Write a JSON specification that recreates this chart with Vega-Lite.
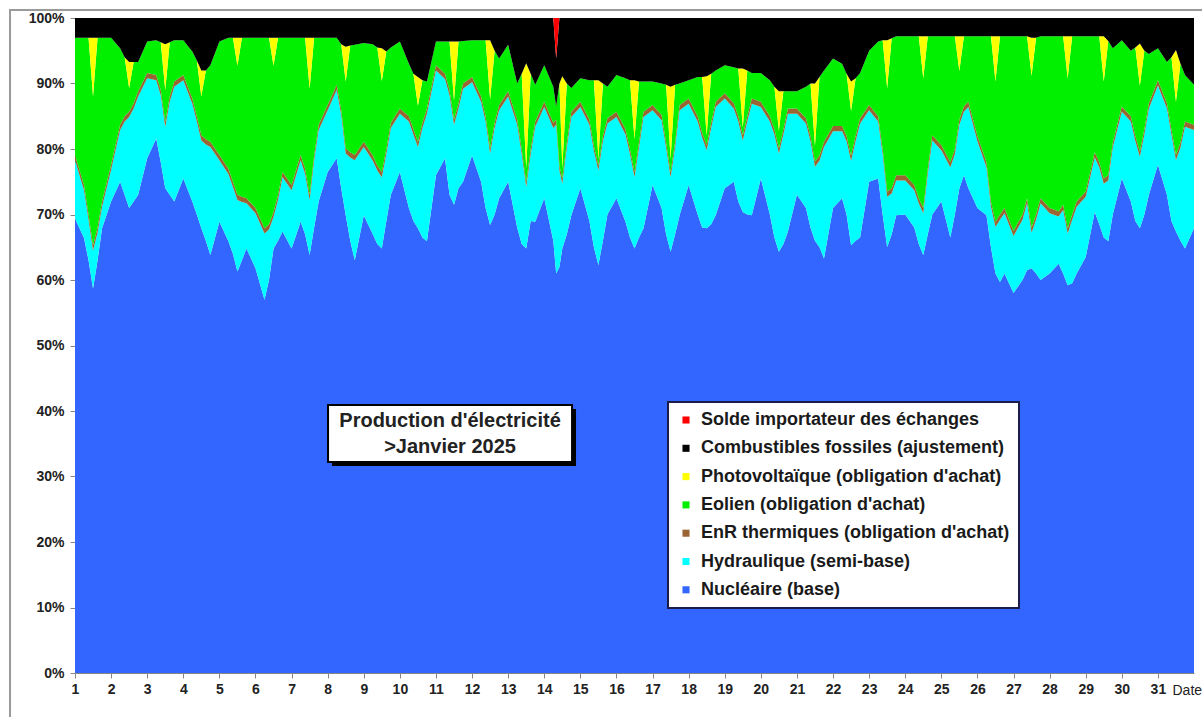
{
  "$schema": "https://vega.github.io/schema/vega-lite/v6.json",
  "width": 1119,
  "height": 655,
  "autosize": {"type": "none"},
  "padding": {"left": 75, "top": 18, "right": 8, "bottom": 44},
  "background": "#ffffff",
  "config": {
    "view": {"stroke": null},
    "font": "Liberation Sans",
    "axis": {"labelOverlap": false, "grid": false, "labelFlush": false},
    "axisX": {
      "labelFontSize": 14, "labelFontWeight": "bold", "labelColor": "#222222",
      "labelPadding": 4, "tickSize": 5, "tickColor": "#888888", "domainColor": "#888888",
      "titleX": 1097, "titleY": 17, "titleAlign": "left", "titleBaseline": "middle",
      "titleFontWeight": "normal", "titleFontSize": 14, "titleColor": "#222222"
    },
    "axisY": {
      "labelFontSize": 14, "labelFontWeight": "bold", "labelColor": "#222222",
      "labelPadding": 6, "tickSize": 5, "tickColor": "#888888", "domainColor": "#888888"
    }
  },
  "datasets": {
    "labels": [
      {"src": "N", "label": "Nucléaire (base)", "ord": 1},
      {"src": "H", "label": "Hydraulique (semi-base)", "ord": 2},
      {"src": "E", "label": "EnR thermiques (obligation d'achat)", "ord": 3},
      {"src": "W", "label": "Eolien (obligation d'achat)", "ord": 4},
      {"src": "S", "label": "Photovoltaïque (obligation d'achat)", "ord": 5},
      {"src": "F", "label": "Combustibles fossiles (ajustement)", "ord": 6},
      {"src": "I", "label": "Solde importateur des échanges", "ord": 7}
    ],
    "mix": [
      {"t":1,"N":69.4,"H":8.9,"E":0.8,"W":17.9,"S":0,"F":3,"I":0},
      {"t":1.25,"N":66.4,"H":7.3,"E":0.8,"W":22.5,"S":0,"F":3,"I":0},
      {"t":1.375,"N":63,"H":6.2,"E":0.8,"W":27,"S":0,"F":3,"I":0},
      {"t":1.5,"N":58.7,"H":5.8,"E":0.8,"W":22.7,"S":9,"F":3,"I":0},
      {"t":1.625,"N":63,"H":4.2,"E":0.8,"W":29,"S":0,"F":3,"I":0},
      {"t":1.75,"N":67.9,"H":3.3,"E":0.8,"W":25,"S":0,"F":3,"I":0},
      {"t":2,"N":72,"H":4.8,"E":0.8,"W":19.4,"S":0,"F":3,"I":0},
      {"t":2.25,"N":75,"H":7.9,"E":0.8,"W":11.7,"S":0,"F":4.6,"I":0},
      {"t":2.375,"N":73,"H":11.2,"E":0.8,"W":9,"S":0,"F":6,"I":0},
      {"t":2.5,"N":71,"H":13.9,"E":0.8,"W":3.6,"S":4,"F":6.7,"I":0},
      {"t":2.625,"N":72,"H":14.2,"E":0.8,"W":6.3,"S":0,"F":6.7,"I":0},
      {"t":2.75,"N":73,"H":15,"E":0.8,"W":4.5,"S":0,"F":6.7,"I":0},
      {"t":3,"N":78.6,"H":12.2,"E":0.8,"W":4.8,"S":0,"F":3.6,"I":0},
      {"t":3.25,"N":81.6,"H":8.9,"E":0.8,"W":5.3,"S":0,"F":3.4,"I":0},
      {"t":3.375,"N":78,"H":10.2,"E":0.8,"W":7.3,"S":0,"F":3.7,"I":0},
      {"t":3.5,"N":74,"H":9.4,"E":0.8,"W":4.8,"S":7,"F":4,"I":0},
      {"t":3.625,"N":73,"H":14.2,"E":0.8,"W":8.3,"S":0,"F":3.7,"I":0},
      {"t":3.75,"N":72,"H":17.5,"E":0.8,"W":6.3,"S":0,"F":3.4,"I":0},
      {"t":4,"N":75.5,"H":15,"E":0.8,"W":5.3,"S":0,"F":3.4,"I":0},
      {"t":4.25,"N":72,"H":14.9,"E":0.8,"W":7.2,"S":0,"F":5.1,"I":0},
      {"t":4.375,"N":70,"H":14.2,"E":0.8,"W":8.5,"S":0,"F":6.5,"I":0},
      {"t":4.5,"N":67.9,"H":13.4,"E":0.8,"W":5.9,"S":4,"F":8,"I":0},
      {"t":4.625,"N":66,"H":14.7,"E":0.8,"W":10.5,"S":0,"F":8,"I":0},
      {"t":4.75,"N":63.8,"H":16.5,"E":0.8,"W":11.7,"S":0,"F":7.2,"I":0},
      {"t":5,"N":68.9,"H":9.4,"E":0.8,"W":17.3,"S":0,"F":3.6,"I":0},
      {"t":5.25,"N":65.9,"H":10.3,"E":0.8,"W":20,"S":0,"F":3,"I":0},
      {"t":5.375,"N":64,"H":10.2,"E":0.8,"W":22,"S":0,"F":3,"I":0},
      {"t":5.5,"N":61.3,"H":10.9,"E":0.8,"W":19.7,"S":4.3,"F":3,"I":0},
      {"t":5.625,"N":63,"H":8.9,"E":0.8,"W":24.3,"S":0,"F":3,"I":0},
      {"t":5.75,"N":64.8,"H":6.9,"E":0.8,"W":24.5,"S":0,"F":3,"I":0},
      {"t":6,"N":61.8,"H":8.4,"E":0.8,"W":26,"S":0,"F":3,"I":0},
      {"t":6.25,"N":57,"H":10.1,"E":0.8,"W":29.1,"S":0,"F":3,"I":0},
      {"t":6.375,"N":60,"H":7.7,"E":0.8,"W":28.5,"S":0,"F":3,"I":0},
      {"t":6.5,"N":64.8,"H":4.8,"E":0.8,"W":22.3,"S":4.3,"F":3,"I":0},
      {"t":6.625,"N":66,"H":6.2,"E":0.8,"W":24,"S":0,"F":3,"I":0},
      {"t":6.75,"N":67.4,"H":8.3,"E":0.8,"W":20.5,"S":0,"F":3,"I":0},
      {"t":7,"N":64.8,"H":8.9,"E":0.8,"W":22.5,"S":0,"F":3,"I":0},
      {"t":7.25,"N":68.9,"H":9.4,"E":0.8,"W":17.9,"S":0,"F":3,"I":0},
      {"t":7.375,"N":67,"H":9.2,"E":0.8,"W":20,"S":0,"F":3,"I":0},
      {"t":7.5,"N":63.8,"H":8.4,"E":0.8,"W":16.2,"S":7.8,"F":3,"I":0},
      {"t":7.625,"N":68,"H":10.2,"E":0.8,"W":18,"S":0,"F":3,"I":0},
      {"t":7.75,"N":72,"H":10.9,"E":0.8,"W":13.3,"S":0,"F":3,"I":0},
      {"t":8,"N":76.5,"H":9.4,"E":0.8,"W":10.3,"S":0,"F":3,"I":0},
      {"t":8.25,"N":78.6,"H":10.4,"E":0.8,"W":7.2,"S":0,"F":3,"I":0},
      {"t":8.375,"N":74,"H":11.2,"E":0.8,"W":10,"S":0,"F":4,"I":0},
      {"t":8.5,"N":69.9,"H":9.4,"E":0.8,"W":10.2,"S":5.3,"F":4.4,"I":0},
      {"t":8.625,"N":66,"H":12.7,"E":0.8,"W":16.3,"S":0,"F":4.2,"I":0},
      {"t":8.75,"N":63,"H":15.3,"E":0.8,"W":16.8,"S":0,"F":4.1,"I":0},
      {"t":9,"N":69.9,"H":10.4,"E":0.8,"W":15.1,"S":0,"F":3.8,"I":0},
      {"t":9.25,"N":67,"H":11.2,"E":0.8,"W":17,"S":0,"F":4,"I":0},
      {"t":9.375,"N":65.5,"H":11.2,"E":0.8,"W":18,"S":0,"F":4.5,"I":0},
      {"t":9.5,"N":64.8,"H":10.9,"E":0.8,"W":13.9,"S":5,"F":4.6,"I":0},
      {"t":9.625,"N":69,"H":10.2,"E":0.8,"W":14.9,"S":0,"F":5.1,"I":0},
      {"t":9.75,"N":73,"H":10.2,"E":0.8,"W":11.5,"S":0,"F":4.5,"I":0},
      {"t":10,"N":76.5,"H":8.9,"E":0.8,"W":10.2,"S":0,"F":3.6,"I":0},
      {"t":10.25,"N":71,"H":13.2,"E":0.8,"W":8,"S":0,"F":7,"I":0},
      {"t":10.375,"N":69,"H":13.2,"E":0.8,"W":8.5,"S":0,"F":8.5,"I":0},
      {"t":10.5,"N":67.9,"H":12.4,"E":0.8,"W":5.5,"S":4.4,"F":9,"I":0},
      {"t":10.625,"N":66.5,"H":16.7,"E":0.8,"W":6.5,"S":0,"F":9.5,"I":0},
      {"t":10.75,"N":65.9,"H":19.5,"E":0.8,"W":4.1,"S":0,"F":9.7,"I":0},
      {"t":11,"N":76,"H":16,"E":0.8,"W":3.6,"S":0,"F":3.6,"I":0},
      {"t":11.25,"N":78.6,"H":12.1,"E":0.8,"W":4.9,"S":0,"F":3.6,"I":0},
      {"t":11.375,"N":73,"H":15.2,"E":0.8,"W":7.4,"S":0,"F":3.6,"I":0},
      {"t":11.5,"N":71.5,"H":12.2,"E":0.8,"W":2.9,"S":9,"F":3.6,"I":0},
      {"t":11.625,"N":74,"H":12.2,"E":0.8,"W":9.4,"S":0,"F":3.6,"I":0},
      {"t":11.75,"N":75,"H":14.2,"E":0.8,"W":6.5,"S":0,"F":3.5,"I":0},
      {"t":12,"N":79,"H":11.2,"E":0.8,"W":5.6,"S":0,"F":3.4,"I":0},
      {"t":12.25,"N":75,"H":12.2,"E":0.8,"W":8.6,"S":0,"F":3.4,"I":0},
      {"t":12.375,"N":71,"H":13.2,"E":0.8,"W":11.6,"S":0,"F":3.4,"I":0},
      {"t":12.5,"N":68.4,"H":10.9,"E":0.8,"W":7.5,"S":9,"F":3.4,"I":0},
      {"t":12.625,"N":70,"H":13.2,"E":0.8,"W":11,"S":0,"F":5,"I":0},
      {"t":12.75,"N":72.5,"H":13.4,"E":0.8,"W":7.1,"S":0,"F":6.2,"I":0},
      {"t":13,"N":75,"H":13,"E":0.8,"W":7.1,"S":0,"F":4.1,"I":0},
      {"t":13.25,"N":68,"H":15.7,"E":0.8,"W":5.5,"S":0,"F":10,"I":0},
      {"t":13.375,"N":65.5,"H":13.7,"E":0.8,"W":11.5,"S":0,"F":8.5,"I":0},
      {"t":13.5,"N":64.8,"H":9.4,"E":0.8,"W":2.1,"S":16,"F":6.9,"I":0},
      {"t":13.625,"N":69,"H":10.2,"E":0.8,"W":11.5,"S":0,"F":8.5,"I":0},
      {"t":13.75,"N":68.9,"H":14.5,"E":0.8,"W":5.6,"S":0,"F":10.2,"I":0},
      {"t":14,"N":72.5,"H":13.9,"E":0.8,"W":5.6,"S":0,"F":7.2,"I":0},
      {"t":14.25,"N":66,"H":17.2,"E":0.8,"W":5.5,"S":0,"F":10.5,"I":0},
      {"t":14.33,"N":61,"H":22.7,"E":0.8,"W":2,"S":0,"F":7.3,"I":6.2},
      {"t":14.42,"N":62,"H":14.7,"E":0.8,"W":12.5,"S":0,"F":10,"I":0},
      {"t":14.5,"N":64.8,"H":9.9,"E":0.8,"W":1.6,"S":14,"F":8.9,"I":0},
      {"t":14.625,"N":67,"H":13.2,"E":0.8,"W":9,"S":0,"F":10,"I":0},
      {"t":14.75,"N":69.9,"H":15,"E":0.8,"W":3.6,"S":0,"F":10.7,"I":0},
      {"t":15,"N":74,"H":12.4,"E":0.8,"W":3.6,"S":0,"F":9.2,"I":0},
      {"t":15.25,"N":69,"H":14.7,"E":0.8,"W":6,"S":0,"F":9.5,"I":0},
      {"t":15.375,"N":65,"H":14.7,"E":0.8,"W":10,"S":0,"F":9.5,"I":0},
      {"t":15.5,"N":62.3,"H":14.4,"E":0.8,"W":1,"S":12,"F":9.5,"I":0},
      {"t":15.625,"N":66,"H":15.2,"E":0.8,"W":8,"S":0,"F":10,"I":0},
      {"t":15.75,"N":70,"H":13.9,"E":0.8,"W":4.8,"S":0,"F":10.5,"I":0},
      {"t":16,"N":72.5,"H":12.4,"E":0.8,"W":5.6,"S":0,"F":8.7,"I":0},
      {"t":16.25,"N":68.9,"H":13.3,"E":0.8,"W":7.8,"S":0,"F":9.2,"I":0},
      {"t":16.375,"N":66.5,"H":12.7,"E":0.8,"W":10.5,"S":0,"F":9.5,"I":0},
      {"t":16.5,"N":64.8,"H":10.9,"E":0.8,"W":5,"S":9,"F":9.5,"I":0},
      {"t":16.625,"N":66.5,"H":13.7,"E":0.8,"W":9.3,"S":0,"F":9.7,"I":0},
      {"t":16.75,"N":67.9,"H":17,"E":0.8,"W":4.6,"S":0,"F":9.7,"I":0},
      {"t":17,"N":74.5,"H":11.4,"E":0.8,"W":3.6,"S":0,"F":9.7,"I":0},
      {"t":17.25,"N":71,"H":13.4,"E":0.8,"W":4.8,"S":0,"F":10,"I":0},
      {"t":17.375,"N":67,"H":13.2,"E":0.8,"W":8.8,"S":0,"F":10.2,"I":0},
      {"t":17.5,"N":64.3,"H":11.4,"E":0.8,"W":2,"S":11,"F":10.5,"I":0},
      {"t":17.625,"N":67,"H":13.2,"E":0.8,"W":8.8,"S":0,"F":10.2,"I":0},
      {"t":17.75,"N":69.9,"H":16,"E":0.8,"W":3.3,"S":0,"F":10,"I":0},
      {"t":18,"N":74.5,"H":12.4,"E":0.8,"W":2.8,"S":0,"F":9.5,"I":0},
      {"t":18.25,"N":70,"H":14.2,"E":0.8,"W":6,"S":0,"F":9,"I":0},
      {"t":18.375,"N":68,"H":13.7,"E":0.8,"W":8.5,"S":0,"F":9,"I":0},
      {"t":18.5,"N":67.9,"H":11.9,"E":0.8,"W":1.5,"S":9,"F":8.9,"I":0},
      {"t":18.625,"N":68.5,"H":14.7,"E":0.8,"W":7.5,"S":0,"F":8.5,"I":0},
      {"t":18.75,"N":69.9,"H":16.5,"E":0.8,"W":4.8,"S":0,"F":8,"I":0},
      {"t":19,"N":74,"H":13.7,"E":0.8,"W":4.3,"S":0,"F":7.2,"I":0},
      {"t":19.25,"N":75,"H":11.2,"E":0.8,"W":5.5,"S":0,"F":7.5,"I":0},
      {"t":19.375,"N":72,"H":12.2,"E":0.8,"W":7.3,"S":0,"F":7.7,"I":0},
      {"t":19.5,"N":70.4,"H":10.9,"E":0.8,"W":1.2,"S":9,"F":7.7,"I":0},
      {"t":19.625,"N":70,"H":14.2,"E":0.8,"W":7,"S":0,"F":8,"I":0},
      {"t":19.75,"N":69.9,"H":17,"E":0.8,"W":3.9,"S":0,"F":8.4,"I":0},
      {"t":20,"N":75.5,"H":10.9,"E":0.8,"W":4.4,"S":0,"F":8.4,"I":0},
      {"t":20.25,"N":70,"H":14.2,"E":0.8,"W":5.5,"S":0,"F":9.5,"I":0},
      {"t":20.375,"N":66.5,"H":15.7,"E":0.8,"W":6.5,"S":0,"F":10.5,"I":0},
      {"t":20.5,"N":64.3,"H":15,"E":0.8,"W":2.7,"S":6,"F":11.2,"I":0},
      {"t":20.625,"N":65.5,"H":16.7,"E":0.8,"W":5.8,"S":0,"F":11.2,"I":0},
      {"t":20.75,"N":67.4,"H":18,"E":0.8,"W":2.6,"S":0,"F":11.2,"I":0},
      {"t":21,"N":73,"H":12.4,"E":0.8,"W":2.6,"S":0,"F":11.2,"I":0},
      {"t":21.25,"N":71,"H":12.9,"E":0.8,"W":4.8,"S":0,"F":10.5,"I":0},
      {"t":21.375,"N":68,"H":13.2,"E":0.8,"W":8,"S":0,"F":10,"I":0},
      {"t":21.5,"N":66,"H":11.3,"E":0.8,"W":2.4,"S":9.5,"F":10,"I":0},
      {"t":21.625,"N":65,"H":13.2,"E":0.8,"W":12,"S":0,"F":9,"I":0},
      {"t":21.75,"N":63.3,"H":17,"E":0.8,"W":10.9,"S":0,"F":8,"I":0},
      {"t":22,"N":71,"H":11.7,"E":0.8,"W":10.3,"S":0,"F":6.2,"I":0},
      {"t":22.25,"N":72.5,"H":10.2,"E":0.8,"W":9.5,"S":0,"F":7,"I":0},
      {"t":22.375,"N":70,"H":11.2,"E":0.8,"W":9.5,"S":0,"F":8.5,"I":0},
      {"t":22.5,"N":65.3,"H":12.9,"E":0.8,"W":6.8,"S":4.5,"F":9.7,"I":0},
      {"t":22.625,"N":66,"H":15.2,"E":0.8,"W":8.8,"S":0,"F":9.2,"I":0},
      {"t":22.75,"N":66.5,"H":17.4,"E":0.8,"W":6.9,"S":0,"F":8.4,"I":0},
      {"t":23,"N":75,"H":10.9,"E":0.8,"W":8.3,"S":0,"F":5,"I":0},
      {"t":23.25,"N":75.5,"H":8.7,"E":0.8,"W":11.4,"S":0,"F":3.6,"I":0},
      {"t":23.375,"N":70,"H":9.2,"E":0.8,"W":16.6,"S":0,"F":3.4,"I":0},
      {"t":23.5,"N":65,"H":7.7,"E":0.8,"W":15.8,"S":7.3,"F":3.4,"I":0},
      {"t":23.625,"N":67,"H":6.2,"E":0.8,"W":22.9,"S":0,"F":3.1,"I":0},
      {"t":23.75,"N":69.9,"H":5.3,"E":0.8,"W":21.2,"S":0,"F":2.8,"I":0},
      {"t":24,"N":70,"H":5.2,"E":0.8,"W":21.2,"S":0,"F":2.8,"I":0},
      {"t":24.25,"N":68,"H":5.7,"E":0.8,"W":22.7,"S":0,"F":2.8,"I":0},
      {"t":24.375,"N":65.5,"H":6.2,"E":0.8,"W":24.7,"S":0,"F":2.8,"I":0},
      {"t":24.5,"N":63.8,"H":6.4,"E":0.8,"W":19.8,"S":6.4,"F":2.8,"I":0},
      {"t":24.625,"N":67,"H":9.2,"E":0.8,"W":20.2,"S":0,"F":2.8,"I":0},
      {"t":24.75,"N":70,"H":11.3,"E":0.8,"W":15.1,"S":0,"F":2.8,"I":0},
      {"t":25,"N":72,"H":7.8,"E":0.8,"W":16.6,"S":0,"F":2.8,"I":0},
      {"t":25.25,"N":66.5,"H":10.7,"E":0.8,"W":19.2,"S":0,"F":2.8,"I":0},
      {"t":25.375,"N":70,"H":9.2,"E":0.8,"W":17.2,"S":0,"F":2.8,"I":0},
      {"t":25.5,"N":74,"H":9.7,"E":0.8,"W":7.4,"S":5.3,"F":2.8,"I":0},
      {"t":25.625,"N":76,"H":9.7,"E":0.8,"W":10.7,"S":0,"F":2.8,"I":0},
      {"t":25.75,"N":74,"H":12.4,"E":0.8,"W":10,"S":0,"F":2.8,"I":0},
      {"t":26,"N":71,"H":10.2,"E":0.8,"W":15.2,"S":0,"F":2.8,"I":0},
      {"t":26.25,"N":69.9,"H":7.3,"E":0.8,"W":19.2,"S":0,"F":2.8,"I":0},
      {"t":26.375,"N":65,"H":6.2,"E":0.8,"W":25.2,"S":0,"F":2.8,"I":0},
      {"t":26.5,"N":61,"H":7.1,"E":0.8,"W":21.4,"S":6.9,"F":2.8,"I":0},
      {"t":26.625,"N":59.7,"H":9.5,"E":0.8,"W":27.2,"S":0,"F":2.8,"I":0},
      {"t":26.75,"N":61,"H":9.2,"E":0.8,"W":26.2,"S":0,"F":2.8,"I":0},
      {"t":27,"N":58,"H":8.7,"E":0.8,"W":29.7,"S":0,"F":2.8,"I":0},
      {"t":27.25,"N":60,"H":9.2,"E":0.8,"W":27.2,"S":0,"F":2.8,"I":0},
      {"t":27.375,"N":61.5,"H":10.2,"E":0.8,"W":24.7,"S":0,"F":2.8,"I":0},
      {"t":27.5,"N":61.8,"H":5.4,"E":0.8,"W":23.2,"S":5.8,"F":3,"I":0},
      {"t":27.625,"N":61,"H":8.2,"E":0.8,"W":27,"S":0,"F":3,"I":0},
      {"t":27.75,"N":60,"H":11.7,"E":0.8,"W":24.7,"S":0,"F":2.8,"I":0},
      {"t":28,"N":61,"H":9.2,"E":0.8,"W":26.2,"S":0,"F":2.8,"I":0},
      {"t":28.25,"N":62.5,"H":7.2,"E":0.8,"W":26.7,"S":0,"F":2.8,"I":0},
      {"t":28.375,"N":61,"H":9.7,"E":0.8,"W":25.7,"S":0,"F":2.8,"I":0},
      {"t":28.5,"N":59.2,"H":7.9,"E":0.8,"W":22.9,"S":6.4,"F":2.8,"I":0},
      {"t":28.625,"N":59.5,"H":9.7,"E":0.8,"W":27.2,"S":0,"F":2.8,"I":0},
      {"t":28.75,"N":61,"H":10.2,"E":0.8,"W":25.2,"S":0,"F":2.8,"I":0},
      {"t":29,"N":63.5,"H":9.2,"E":0.8,"W":23.7,"S":0,"F":2.8,"I":0},
      {"t":29.25,"N":70.4,"H":8.3,"E":0.8,"W":17.7,"S":0,"F":2.8,"I":0},
      {"t":29.375,"N":68.5,"H":8.7,"E":0.8,"W":19.2,"S":0,"F":2.8,"I":0},
      {"t":29.5,"N":66.5,"H":8.2,"E":0.8,"W":14.8,"S":6.9,"F":2.8,"I":0},
      {"t":29.625,"N":65.9,"H":9.3,"E":0.8,"W":20.5,"S":0,"F":3.5,"I":0},
      {"t":29.75,"N":70,"H":10.2,"E":0.8,"W":14.4,"S":0,"F":4.6,"I":0},
      {"t":30,"N":75.5,"H":10.2,"E":0.8,"W":10.1,"S":0,"F":3.4,"I":0},
      {"t":30.25,"N":72,"H":12.2,"E":0.8,"W":10,"S":0,"F":5,"I":0},
      {"t":30.375,"N":69,"H":12.2,"E":0.8,"W":13.5,"S":0,"F":4.5,"I":0},
      {"t":30.5,"N":67.9,"H":10.9,"E":0.8,"W":10.1,"S":6.4,"F":3.9,"I":0},
      {"t":30.625,"N":70,"H":12.2,"E":0.8,"W":12,"S":0,"F":5,"I":0},
      {"t":30.75,"N":73,"H":13.2,"E":0.8,"W":7.5,"S":0,"F":5.5,"I":0},
      {"t":31,"N":77.6,"H":12.1,"E":0.8,"W":4.9,"S":0,"F":4.6,"I":0},
      {"t":31.25,"N":73,"H":13.2,"E":0.8,"W":6.3,"S":0,"F":6.7,"I":0},
      {"t":31.375,"N":69,"H":13.2,"E":0.8,"W":11,"S":0,"F":6,"I":0},
      {"t":31.5,"N":67.4,"H":10.9,"E":0.8,"W":8.1,"S":7.9,"F":4.9,"I":0},
      {"t":31.625,"N":66,"H":14.2,"E":0.8,"W":12,"S":0,"F":7,"I":0},
      {"t":31.75,"N":64.8,"H":18.6,"E":0.8,"W":7.1,"S":0,"F":8.7,"I":0},
      {"t":32,"N":67.9,"H":15,"E":0.8,"W":6.1,"S":0,"F":10.2,"I":0}
    ]
  },
  "encoding": {
    "x": {
      "field": "t", "type": "quantitative",
      "scale": {"domain": [1, 32], "nice": false, "zero": false},
      "axis": {
        "values": [1,2,3,4,5,6,7,8,9,10,11,12,13,14,15,16,17,18,19,20,21,22,23,24,25,26,27,28,29,30,31],
        "format": "d", "labelOverlap": false, "title": "Date"
      }
    },
    "y": {
      "field": "v", "type": "quantitative",
      "scale": {"domain": [0, 100], "nice": false},
      "axis": {
        "values": [0,10,20,30,40,50,60,70,80,90,100],
        "labelExpr": "datum.value + '%'", "title": null, "labelOverlap": false
      }
    }
  },
  "layer": [
    {
      "data": {"values": [{"t": -0.8, "t2": 33.5, "v": 101.22, "v2": -12}]},
      "mark": {"type": "rect", "fill": null, "stroke": "#9a9a9a", "strokeWidth": 2, "clip": false},
      "encoding": {
        "x2": {"field": "t2"},
        "y2": {"field": "v2"}
      }
    },
    {
      "data": {"name": "mix"},
      "transform": [
        {"fold": ["N", "H", "E", "W", "S", "F", "I"], "as": ["src", "v"]},
        {"lookup": "src", "from": {"data": {"name": "labels"}, "key": "src", "fields": ["label", "ord"]}}
      ],
      "mark": {"type": "area", "interpolate": "linear", "clip": true},
      "encoding": {
        "y": {
          "field": "v", "type": "quantitative", "stack": "zero"
        },
        "color": {
          "field": "label", "type": "nominal",
          "scale": {
            "domain": ["Solde importateur des échanges", "Combustibles fossiles (ajustement)", "Photovoltaïque (obligation d'achat)", "Eolien (obligation d'achat)", "EnR thermiques (obligation d'achat)", "Hydraulique (semi-base)", "Nucléaire (base)"],
            "range": ["#ff0000", "#000000", "#ffff00", "#00f000", "#996633", "#00ffff", "#3366ff"]
          },
          "legend": {
            "orient": "none", "legendX": 593, "legendY": 384, "title": null,
            "fillColor": "#ffffff", "strokeColor": "#1c1c4a", "padding": 9,
            "symbolType": "square", "symbolSize": 50, "symbolStrokeWidth": 0,
            "labelFontSize": 18, "labelFontWeight": "bold", "labelColor": "#1a1a1a",
            "rowPadding": 10.3, "labelOffset": 6, "labelLimit": 500,
            "encode": {"legend": {"update": {"strokeWidth": {"value": 2}}}}
          }
        },
        "order": {"field": "ord", "type": "quantitative", "sort": "ascending"}
      }
    },
    {
      "data": {"values": [{"t": 8.12, "t2": 14.88, "v": 31.6, "v2": 40.31}]},
      "mark": {"type": "rect", "fill": "#000000"},
      "encoding": {
        "x2": {"field": "t2"},
        "y2": {"field": "v2"}
      }
    },
    {
      "data": {"values": [{"t": 8.01, "t2": 14.77, "v": 32.21, "v2": 40.92}]},
      "mark": {"type": "rect", "fill": "#ffffff", "stroke": "#000000", "strokeWidth": 2},
      "encoding": {
        "x2": {"field": "t2"},
        "y2": {"field": "v2"}
      }
    },
    {
      "data": {"values": [{"t": 11.39, "v": 38.45, "txt": "Production d'électricité\n>Janvier 2025"}]},
      "mark": {"type": "text", "fontSize": 20, "fontWeight": "bold", "lineBreak": "\n", "lineHeight": 26, "align": "center", "baseline": "middle", "color": "#222222"},
      "encoding": {
        "text": {"field": "txt"}
      }
    }
  ]
}
